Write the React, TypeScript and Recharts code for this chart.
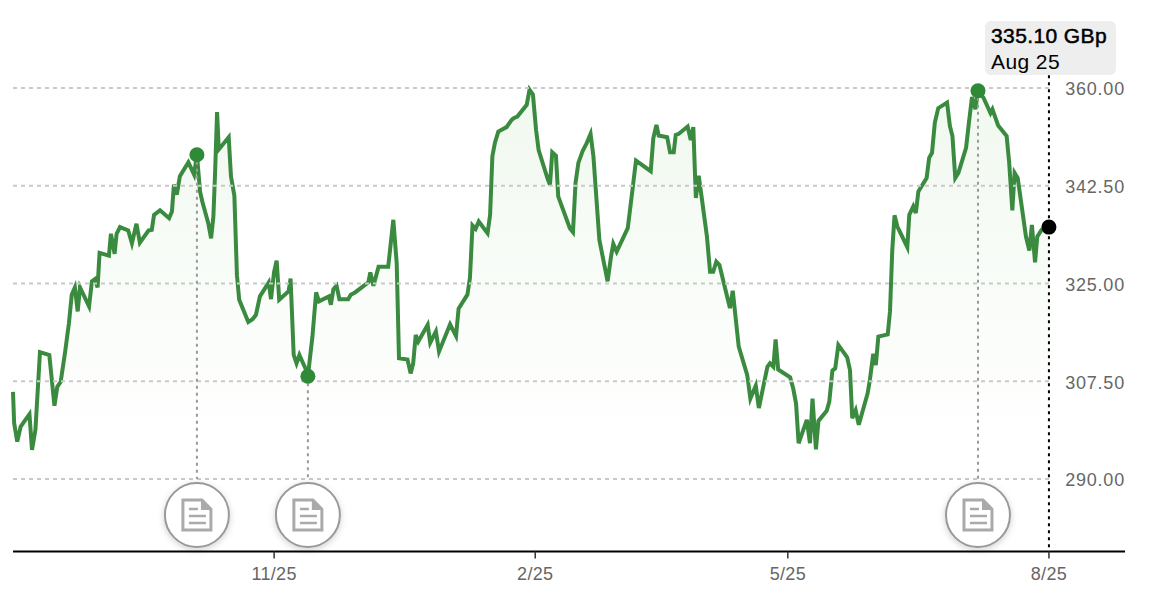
import React from "react";
import { ComposedChart, Area, XAxis, YAxis, ReferenceLine, ReferenceDot } from "recharts";

// calendar days since 25 Aug
const days = [0,0.4,1.5,2.7,5.8,6.7,7.9,9.5,12.8,14.6,15.6,16.8,18.3,19.7,20.7,21.8,22.8,23.6,26.8,27.8,28.9,29.8,30.5,33.8,34.5,35.8,36.5,37.7,40.6,41.9,43.5,44.7,47.8,48.9,49.7,51.8,55,56,56.7,57.7,58.8,61.8,63.8,64.8,65.9,66.7,68.8,69.8,70.6,71.2,71.9,72.5,76,76.8,78,78.9,79.7,82.9,84.4,85.6,87,90.1,90.9,92,92.9,93.8,97.1,97.8,98.9,99.9,100.9,103.2,103.9,105.5,106.8,107.8,111.3,112,112.9,114,115,118.1,119,120.5,125.2,125.9,127,128.8,132.2,134,135.2,136,139,140.1,141,141.9,142.8,146.1,147,149,150.1,154,156.1,157,160.1,161,161.9,163,164.1,167.2,168.1,168.9,169.8,171,173.9,175.7,176.4,177.7,181,182,183.2,184.3,185.2,188.4,189.2,190,191.3,192.1,196.2,197.3,198.2,199.2,200.7,202.1,203.5,204.5,206.6,209.5,210.7,211.5,212.7,216.6,218.2,219.5,224.7,225.6,226.7,227.5,230.5,231.5,232.8,233.5,234.6,237.7,238.8,239.7,240.6,241.6,242.6,244.5,245.6,246.7,247.8,248.9,252.6,253.6,255.7,258.7,259.8,261.7,262.8,265.8,266.7,267.9,268.7,269.6,273.8,274.9,275.9,276.8,279.7,280.8,281.7,282.9,283.8,286.7,287.6,288.7,289.7,290.8,293.9,294.9,295.7,296.9,298,301.1,301.9,303.1,304,304.9,308.2,309,309.8,310.6,311.6,315.1,315.8,317.2,318.1,319,321.9,322.8,323.8,324.8,326,329.1,330.1,331,332,333.1,335.8,336.8,337.9,339.1,340,341.9,344.4,345.1,347.1,350.1,351,352.1,352.9,354,356.9,358.1,359,360.1,360.9,362.4,365];
const prices = [305.6,300,296.7,299.4,301.6,295.2,298.8,312.7,312.2,303.1,306.5,307.4,312.5,317.9,323,324.3,320,324.3,320.9,325.4,325.8,324.3,330.5,330,333.9,330.3,333.9,335.1,334.5,332.2,335.7,332.3,334.5,334.6,337.3,338.1,336.7,337.9,342.7,340.9,344.2,346.7,344.5,348.05,341.5,339.7,335.8,333.1,337,344.8,355.7,349,351.2,344.2,340.7,326.5,322.1,318.1,318.6,319.4,322.7,325.2,322.2,327.1,329.1,322.1,323.6,325.9,312.2,310.7,312.2,309.6,308.4,315.5,323.4,321.8,322.7,321.2,324,324.6,322.2,322.2,323,323.4,325.2,327,324.6,328,328,336.4,328.6,311.6,311.4,308.9,310.7,315.8,314.6,317.6,314.4,316.4,312.8,317.7,315.6,320.5,323,326,335.4,334.8,336.1,334,337.3,347.8,350.2,352.2,353,354.3,354.6,354.9,357,359.7,358.8,352.5,348.9,343.7,342.7,348.5,347.9,340.6,334.9,334.2,343,346.6,348.7,350.1,351.8,347.8,332.8,325.4,329.8,332.1,330.7,334.9,341.5,347,345.1,351,353.4,351.5,351.2,348.5,348.5,351.6,351.8,353.1,350.7,353,340.3,344.3,340.6,333.4,327.1,327.1,328.9,328.3,320.6,323.7,313.7,308.6,304.4,306.7,302.7,310.1,310.7,310.1,315,309.6,308.2,306.2,303.5,296.4,300.6,296.4,304.4,295.3,300.4,302.2,303.8,309.4,309.8,314,311.8,309.5,300.9,302.3,299.7,305.3,307.7,312.4,310.4,315.5,315.9,320,331,337.2,335.2,331.5,337.3,338.8,337.6,341.5,343.9,347.5,348.4,353.8,356.4,357.4,353.2,351.4,343.9,344.8,349.3,353.8,358.4,356.2,359.5,358.3,355.5,356.2,353.3,351.4,346.6,338.1,344.8,343.9,333.4,330.9,335.5,328.8,333.4,334.6,335.1];

const yTicks = [290, 307.5, 325, 342.5, 360];
const xTicks = [92, 184, 273, 365];
const xLabels = ["11/25", "2/25", "5/25", "8/25"];
const noteDays = [64.8, 103.9, 340];
const noteLevels = [348.05, 308.4, 359.5];
const lastDay = 365;
const lastPrice = 335.1;
const priceLabel = "335.10 GBp";
const dateLabel = "Aug 25";

const rows = days.map((day, i) => ({ day, price: prices[i] }));

const GREEN = "#3a8b40";
const FONT = "'Liberation Sans', Arial, sans-serif";

const NoteIcon = ({ cx, cy }: any) => (
  <g>
    <circle cx={cx} cy={cy} r={32} fill="#fff" stroke="#999" strokeWidth={2} filter="url(#noteShadow)" />
    <path
      d={`M${cx - 14} ${cy - 15}H${cx + 5}L${cx + 14} ${cy - 6}V${cy + 15}H${cx - 14}Z`}
      fill="#fff"
      stroke="#aaa"
      strokeWidth={3}
    />
    <path d={`M${cx + 4} ${cy - 15}L${cx + 14} ${cy - 5}H${cx + 4}Z`} fill="#aaa" />
    <path
      d={`M${cx - 8} ${cy - 6}H${cx + 1}M${cx - 8} ${cy + 1}H${cx + 9}M${cx - 8} ${cy + 8}H${cx + 9}`}
      stroke="#aaa"
      strokeWidth={2.5}
      fill="none"
    />
  </g>
);

export default function App() {
  return (
    <div style={{ position: "absolute", left: 0, top: 0, width: 1162, height: 600, background: "#fff", fontFamily: FONT }}>
      <ComposedChart
        width={1162}
        height={600}
        data={rows}
        margin={{ top: 21, right: 37, bottom: 0, left: 13 }}
      >
        <defs>
          <linearGradient id="areaFade" x1="0" y1="0" x2="0" y2="1">
            <stop offset="0%" stopColor="#5fb84f" stopOpacity={0.09} />
            <stop offset="50%" stopColor="#5fb84f" stopOpacity={0.03} />
            <stop offset="75%" stopColor="#5fb84f" stopOpacity={0.003} />
            <stop offset="100%" stopColor="#5fb84f" stopOpacity={0} />
          </linearGradient>
          <filter id="noteShadow" x="-30%" y="-30%" width="160%" height="160%">
            <feDropShadow dx="0" dy="2" stdDeviation="3" floodColor="#000" floodOpacity="0.18" />
          </filter>
        </defs>
        <XAxis
          dataKey="day"
          type="number"
          scale="linear"
          domain={[0, 391.8]}
          ticks={xTicks}
          tickFormatter={(v: number) => xLabels[xTicks.indexOf(v)]}
          axisLine={{ stroke: "#000", strokeWidth: 2 }}
          tickLine={{ stroke: "#333", strokeWidth: 1.5 }}
          tickSize={7}
          tickMargin={9}
          height={48.4}
          tick={{ fill: "#666", fontSize: 18, letterSpacing: 0.3, fontFamily: FONT }}
        />
        <YAxis
          orientation="right"
          mirror
          type="number"
          domain={[277, 372]}
          ticks={yTicks}
          tickFormatter={(v: number) => v.toFixed(2)}
          axisLine={false}
          tickLine={false}
          tickSize={0}
          tickMargin={0}
          tick={{ fill: "#666", fontSize: 18, letterSpacing: 0.8, fontFamily: FONT, dy: 1 }}
        />
        {yTicks.map((v) => (
          <ReferenceLine
            key={v}
            segment={[{ x: 0, y: v }, { x: lastDay, y: v }]}
            stroke="#c9c9c9"
            strokeWidth={2}
            strokeDasharray="4 4"
          />
        ))}
        <Area
          dataKey="price"
          type="linear"
          stroke={GREEN}
          strokeWidth={4}
          strokeLinejoin="miter"
          fill="url(#areaFade)"
          fillOpacity={1}
          dot={false}
          activeDot={false}
          isAnimationActive={false}
        />
        {noteDays.map((d, i) => (
          <ReferenceLine
            key={d}
            segment={[{ x: d, y: noteLevels[i] }, { x: d, y: 290 }]}
            stroke="#999"
            strokeWidth={2}
            strokeDasharray="3 4"
          />
        ))}
        <ReferenceLine
          segment={[{ x: lastDay, y: 362.3 }, { x: lastDay, y: 277 }]}
          stroke="#000"
          strokeWidth={2}
          strokeDasharray="3 4"
        />
        {noteDays.map((d, i) => (
          <ReferenceDot key={d} x={d} y={noteLevels[i]} r={7.5} fill="#2f8a38" stroke="none" />
        ))}
        {noteDays.map((d) => (
          <ReferenceDot key={d} x={d} y={283.55} shape={NoteIcon} />
        ))}
        <ReferenceDot x={lastDay} y={lastPrice} r={7.5} fill="#000" stroke="none" />
      </ComposedChart>
      <div
        style={{
          position: "absolute",
          left: 985,
          top: 21,
          width: 131,
          height: 54,
          boxSizing: "border-box",
          padding: "2px 0 0 6px",
          background: "#eeeeee",
          borderRadius: 6,
          color: "#000",
          fontSize: 21,
          letterSpacing: 0.4,
          lineHeight: "26px",
          whiteSpace: "nowrap",
        }}
      >
        <div style={{ WebkitTextStroke: "0.5px #000" }}>{priceLabel}</div>
        <div>{dateLabel}</div>
      </div>
    </div>
  );
}
